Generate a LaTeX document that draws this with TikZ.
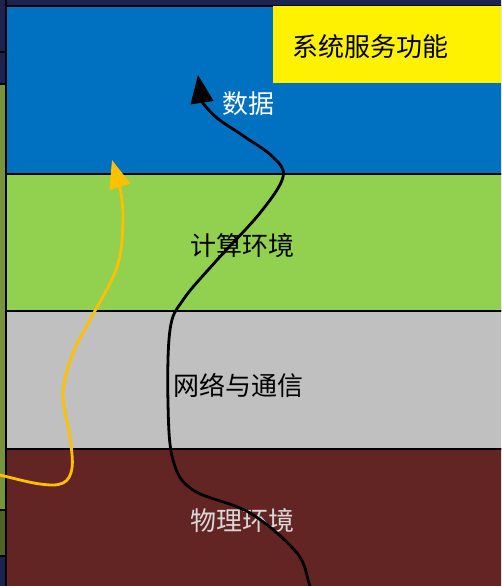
\documentclass[tikz,border=0pt]{standalone}
\usepackage{fontspec}
\newfontfamily\cjk{Noto Sans CJK SC}
\usetikzlibrary{arrows.meta}
\definecolor{navy}{HTML}{1C2350}
\definecolor{olive}{HTML}{77933C}
\definecolor{darkolive}{HTML}{4F6228}
\definecolor{layblue}{HTML}{0070C0}
\definecolor{laygreen}{HTML}{92D050}
\definecolor{laygray}{HTML}{C0C0C0}
\definecolor{layred}{HTML}{632523}
\definecolor{arrorange}{HTML}{FFC000}
\definecolor{lightgraytext}{HTML}{D9D9D9}
\begin{document}
\begin{tikzpicture}[x=0.75pt,y=-0.75pt,
  layer/.style={draw=black,line width=1.9pt},
  lbl/.style={font=\cjk\fontsize{19.5}{22}\selectfont,inner sep=0pt},
  flow/.style={line width=2.1pt,line cap=round}]
\useasboundingbox (0,0) rectangle (501,586);
\begin{scope}
\clip (0,0) rectangle (501,586);
% background strips of the surrounding diagram
\fill[navy] (-20,-20) rectangle (520,6);
\draw[layer,fill=navy] (-20,-20) rectangle (6,84);
\draw[layer,fill=olive] (-20,84) rectangle (6,510);
\draw[layer,fill=darkolive] (-20,510) rectangle (6,556);
\draw[layer,fill=navy] (-20,556) rectangle (6,600);
\draw[line width=1.2pt] (-5,52) -- (6,52);
% layers
\draw[layer,fill=layblue] (6,6) rectangle (520,174);
\draw[layer,fill=laygreen] (6,174) rectangle (520,311);
\draw[layer,fill=laygray] (6,311) rectangle (520,449);
\draw[layer,fill=layred] (6,449) rectangle (520,600);
% yellow box
\fill[yellow] (273,6) rectangle (520,83);
\node[lbl,text=black] (svc) at (370,47) {系统服务功能};
% labels
\node[lbl,text=white] (data) at (248,104) {数据};
\node[lbl,text=black] (comp) at (242,246) {计算环境};
\node[lbl,text=black] (net) at (238,385) {网络与通信};
\node[lbl,text=lightgraytext] (phys) at (242,521) {物理环境};
% curves
\coordinate (btip) at (198,75);
\coordinate (otip) at (112,160);
\draw[flow,black,-{Triangle[length=21pt,width=17pt]}]
  plot[smooth,tension=0.6] coordinates{(318,600) (310,586) (297,553) (250,513) (193,490) (173,460) (168,403) (170,330) (183,300) (217,260) (260,213) (283,177) (273,157) (245,137) (217,118) (202,102)} -- (btip);
\draw[flow,arrorange,-{Triangle[length=21pt,width=16pt]}]
  plot[smooth,tension=0.6] coordinates{(-10,472) (0,475) (40,484) (63,483) (72,468) (70,437) (63,393) (73,353) (90,320) (117,267) (123,220) (120,187)} -- (otip);
\end{scope}
\end{tikzpicture}
\end{document}
